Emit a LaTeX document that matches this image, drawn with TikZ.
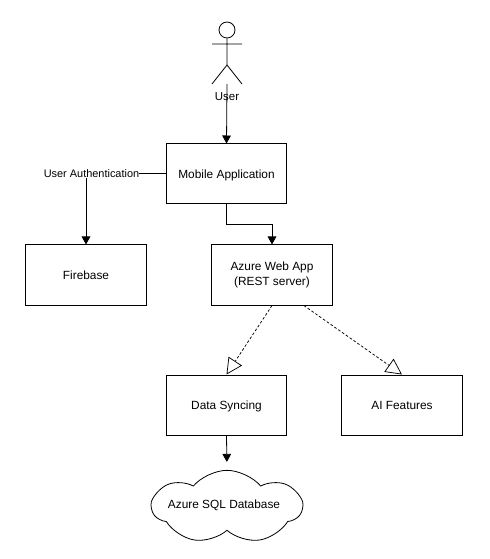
\documentclass[tikz,border=0pt]{standalone}
\usepackage{fontspec}
\setmainfont{Liberation Sans}
\usepackage{xcolor}
\usepackage{tikz}
\usetikzlibrary{arrows.meta,calc,shapes.symbols}
\tikzset{
  boxnode/.style={draw, line width=0.75pt, minimum width=90.5pt, minimum height=45pt, align=center, font=\fontsize{8.9}{11.2}\selectfont, inner sep=0pt},
  textnode/.style={font=\fontsize{8.2}{11}\selectfont, inner sep=0pt},
  solidarrow/.style={draw, line width=0.6pt, -{Triangle[length=6pt,width=6.5pt]}},
  openarrow/.style={draw, line width=0.55pt, dash pattern=on 2pt off 1.5pt, -{Triangle[open,length=12pt,width=12pt]}}
}
\begin{document}
\begin{tikzpicture}[x=0.75pt,y=-0.75pt]
  \useasboundingbox (0,0) rectangle (489,559);
  % actor
  \node[draw, circle, line width=0.6pt, minimum size=12pt, inner sep=0pt] (head) at (227,30) {};
  \coordinate (arml) at (212,44);
  \coordinate (armr) at (242,44);
  \coordinate (hip) at (227,65);
  \coordinate (legl) at (212,84);
  \coordinate (legr) at (242,84);
  \coordinate (userbottom) at (227,84);
  \draw[line width=0.6pt] (head.south) -- (hip) (arml) -- (armr) (legl) -- (hip) -- (legr);
  \node[textnode, font=\fontsize{8.6}{11}\selectfont] (user) at (227,97) {User};
  % boxes
  \node[boxnode, text depth=0pt] (mobile) at (226.5,174) {Mobile Application};
  \node[boxnode] (firebase) at (86,275) {Firebase};
  \node[boxnode] (azure) at (272,275) {Azure Web App\\(REST server)};
  \node[boxnode, text depth=0pt] (syncing) at (226.5,405) {Data Syncing};
  \node[boxnode] (features) at (402,405) {AI Features};
  \node[draw, cloud, cloud puffs=7, cloud puff arc=100, aspect=2.3, line width=0.6pt, minimum width=112pt, minimum height=55pt, inner sep=0pt] (database) at (227,507) {};
  \node[textnode, font=\fontsize{8.9}{11}\selectfont] (databaselabel) at (224,505) {Azure SQL Database};
  \node[textnode] (authlabel) at (91.5,174) {User Authentication};
  \coordinate (azureright) at ($(azure.south east)+(-29,0)$);
  \coordinate (bendpoint) at ($(mobile.south)!0.5!(azure.north)$);
  % connectors
  \draw[solidarrow] (userbottom) -- (mobile.north);
  \draw[line width=0.75pt] (mobile.west) -- (authlabel.east);
  \draw[solidarrow] (authlabel.south -| firebase.north) -- (firebase.north);
  \draw[solidarrow] (mobile.south) |- (bendpoint) -| (azure.north);
  \draw[openarrow] (azure.south) -- (syncing.north);
  \draw[openarrow] (azureright) -- (features.north);
  \draw[solidarrow, shorten >=6pt] (syncing.south) -- (database.north);
\end{tikzpicture}
\end{document}
